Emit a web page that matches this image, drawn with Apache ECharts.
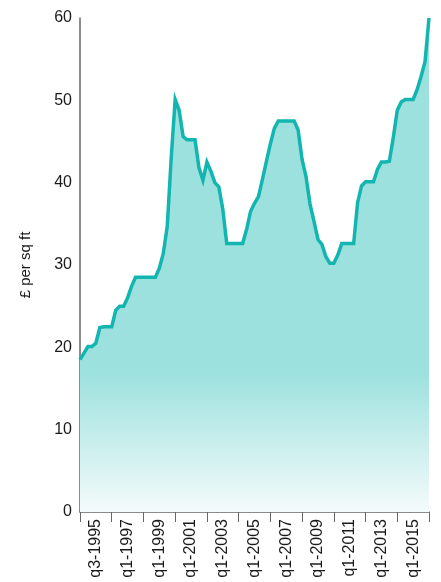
<!DOCTYPE html>
<html>
<head>
<meta charset="utf-8">
<script src="https://cdn.jsdelivr.net/npm/echarts@6/dist/echarts.min.js"></script>
<style>
  html, body { margin: 0; padding: 0; background: #fff; }
  #chart { width: 441px; height: 582px; }
</style>
</head>
<body>
<div id="chart"></div>
<script>
// Period labels shown under the axis, one per two-year band
const tickLabels = ['q3-1995', 'q1-1997', 'q1-1999', 'q1-2001', 'q1-2003', 'q1-2005',
  'q1-2007', 'q1-2009', 'q1-2011', 'q1-2013', 'q1-2015'];

// Rent, £ per sq ft, one reading per step along the axis
const rent = [
  18.5, 19.3, 20.1, 20.1, 20.5, 22.4, 22.5, 22.5, 22.5, 24.5,
  25.0, 25.0, 26.0, 27.4, 28.5, 28.5, 28.5, 28.5, 28.5, 28.5,
  29.6, 31.4, 34.7, 43.0, 50.1, 48.8, 45.6, 45.2, 45.2, 45.2,
  41.8, 40.3, 42.5, 41.4, 40.0, 39.5, 36.8, 32.6, 32.6, 32.6,
  32.6, 32.6, 34.3, 36.5, 37.5, 38.3, 40.4, 42.6, 44.7, 46.6,
  47.5, 47.5, 47.5, 47.5, 47.5, 46.4, 42.8, 40.7, 37.4, 35.3,
  33.1, 32.5, 31.0, 30.2, 30.2, 31.2, 32.6, 32.6, 32.6, 32.6,
  37.6, 39.6, 40.1, 40.1, 40.1, 41.6, 42.5, 42.5, 42.6, 45.5,
  48.8, 49.8, 50.1, 50.1, 50.1, 51.3, 52.9, 54.7, 60.0
];
const steps = rent.map((_, i) => i);

const font = "'Liberation Sans', Arial, Helvetica, sans-serif";
const chart = echarts.init(document.getElementById('chart'), null, { renderer: 'canvas' });

chart.setOption({
  animation: false,
  backgroundColor: '#ffffff',
  grid: { left: 80, right: 12, top: 18, bottom: 70 },
  xAxis: [
    {
      type: 'category',
      data: tickLabels,
      boundaryGap: true,
      axisLine: { show: true, lineStyle: { color: '#666', width: 1.5 } },
      axisTick: { show: true, alignWithLabel: false, length: 10, lineStyle: { color: '#666', width: 1 } },
      axisLabel: { rotate: 90, margin: 7, color: '#1a1a1a', fontSize: 16, fontFamily: font }
    },
    {
      type: 'category',
      data: steps,
      boundaryGap: false,
      show: false
    }
  ],
  yAxis: {
    type: 'value',
    min: 0, max: 60, interval: 10,
    name: '£ per sq ft',
    nameLocation: 'middle',
    nameGap: 47,
    nameRotate: 90,
    nameTextStyle: { color: '#1a1a1a', fontSize: 15, fontFamily: font },
    axisLine: { show: true, lineStyle: { color: '#666', width: 1.5 } },
    axisTick: { show: false },
    splitLine: { show: false },
    axisLabel: { color: '#1a1a1a', fontSize: 16, fontFamily: font, margin: 8 }
  },
  series: [{
    type: 'line',
    xAxisIndex: 1,
    data: rent,
    symbol: 'none',
    smooth: false,
    lineStyle: { color: '#12b5b0', width: 3.5, join: 'miter' },
    areaStyle: {
      color: {
        type: 'linear', x: 0, y: 0, x2: 0, y2: 1,
        colorStops: [
          { offset: 0, color: '#9de1de' },
          { offset: 0.72, color: '#9de1de' },
          { offset: 1, color: '#f4fbfb' }
        ]
      },
      opacity: 1
    }
  }]
});
</script>
</body>
</html>
